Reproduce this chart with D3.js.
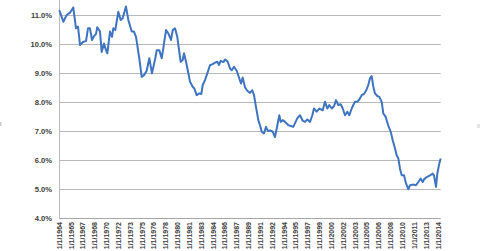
<!DOCTYPE html>
<html><head><meta charset="utf-8">
<script src="https://cdn.jsdelivr.net/npm/d3@7"></script>
<style>body{margin:0;background:#fff;overflow:hidden}svg{display:block}</style>
</head><body>
<svg id="c" width="480" height="251"></svg>
<script>
const dates = [1964.00,1964.53,1964.98,1965.42,1965.85,1966.21,1966.48,1966.74,1967.18,1967.54,1967.80,1968.06,1968.33,1968.59,1968.86,1969.03,1969.39,1969.61,1969.92,1970.18,1970.36,1970.71,1970.98,1971.15,1971.41,1971.81,1972.13,1972.39,1972.83,1973.14,1973.59,1973.89,1974.16,1974.59,1974.91,1975.22,1975.57,1975.92,1976.27,1976.71,1976.90,1977.24,1977.56,1977.77,1978.13,1978.43,1978.79,1979.02,1979.32,1979.62,1980.07,1980.34,1980.51,1980.78,1981.31,1981.66,1981.88,1982.19,1982.54,1982.80,1982.99,1983.29,1983.60,1983.95,1984.31,1984.62,1984.92,1985.15,1985.37,1985.72,1985.98,1986.30,1986.60,1986.83,1987.13,1987.49,1987.83,1988.06,1988.28,1988.59,1988.89,1989.25,1989.55,1989.78,1990.04,1990.35,1990.57,1990.80,1991.10,1991.37,1991.63,1991.90,1992.26,1992.56,1992.79,1993.13,1993.32,1993.58,1993.89,1994.32,1994.77,1994.98,1995.51,1995.87,1996.23,1996.53,1996.84,1997.20,1997.50,1997.72,1998.08,1998.43,1998.88,1999.18,1999.49,1999.75,2000.07,2000.37,2000.64,2000.94,2001.26,2001.53,2001.83,2002.13,2002.40,2002.72,2002.93,2003.15,2003.46,2003.72,2004.04,2004.34,2004.61,2004.91,2005.14,2005.36,2005.58,2005.80,2006.11,2006.37,2006.69,2006.90,2007.22,2007.52,2007.88,2008.15,2008.45,2008.67,2008.89,2009.11,2009.34,2009.64,2009.91,2010.21,2010.44,2010.79,2011.23,2011.54,2011.85,2012.12,2012.29,2012.65,2013.08,2013.44,2013.61,2013.88,2014.05,2014.32,2014.50];
const rates = [11.17,10.77,11.00,11.08,11.26,10.54,10.60,9.97,10.08,10.10,10.54,10.54,10.14,10.27,10.35,10.58,10.43,9.73,10.02,9.79,9.68,10.43,10.25,10.54,10.48,11.11,10.83,10.89,11.29,10.83,10.43,10.43,10.25,9.51,8.87,8.93,9.08,9.51,8.99,9.51,9.79,9.79,9.51,9.85,10.48,10.37,10.14,10.48,10.54,10.25,9.39,9.45,9.68,9.39,8.70,8.53,8.47,8.24,8.30,8.28,8.59,8.76,8.99,9.27,9.31,9.36,9.39,9.28,9.42,9.38,9.47,9.39,9.16,9.10,9.22,9.08,8.82,8.64,8.85,8.51,8.39,8.32,8.41,8.24,7.84,7.38,7.21,6.98,6.92,7.15,7.00,7.03,6.98,6.80,7.09,7.55,7.32,7.38,7.32,7.21,7.17,7.15,7.44,7.55,7.36,7.32,7.40,7.32,7.55,7.78,7.67,7.78,7.72,8.01,7.78,7.90,7.78,7.86,8.07,7.90,7.93,7.78,7.55,7.67,7.55,7.78,7.90,8.01,8.01,8.09,8.24,8.28,8.39,8.59,8.82,8.90,8.53,8.30,8.21,8.18,8.01,7.61,7.49,7.22,6.98,6.69,6.40,6.17,6.06,5.71,5.48,5.48,5.20,5.00,5.14,5.16,5.14,5.25,5.37,5.25,5.34,5.42,5.48,5.54,5.48,5.08,5.54,5.89,6.06];
const yTicks = [4,5,6,7,8,9,10,11];
const tickYears = [1964,1965,1967,1968,1970,1972,1973,1975,1976,1978,1980,1981,1983,1984,1986,1987,1989,1991,1992,1994,1995,1997,1999,2000,2002,2003,2005,2006,2008,2010,2011,2013,2014];
const tickLabels = tickYears.map(y => "1/1/" + y);

const svg = d3.select("#c");
const left = 59.3, right = 440.7;
const x = d3.scaleLinear().domain([1964, 2014.5]).range([left, right]);
const y = d3.scaleLinear().domain([4, 11]).range([218.3, 15]);
const xl = d3.scalePoint().domain(tickLabels).range([59.3, 438]);

// gridlines
svg.append("g").selectAll("line").data(yTicks).join("line")
  .attr("x1", left).attr("x2", right)
  .attr("y1", d => Math.round(y(d)) + 0.5).attr("y2", d => Math.round(y(d)) + 0.5)
  .attr("stroke", d => d === 4 ? "#a6a6a6" : "#b8b8b8").attr("stroke-width", 1);
// y axis line
svg.append("line").attr("x1", 59.5).attr("x2", 59.5).attr("y1", 0).attr("y2", 219)
  .attr("stroke", "#b8b8b8");

// y labels
svg.append("g").selectAll("text").data(yTicks).join("text")
  .attr("x", 52).attr("y", d => y(d) + 3)
  .attr("text-anchor", "end")
  .attr("font-family", "Liberation Sans, Arial, sans-serif")
  .attr("font-size", "7.6px").attr("font-weight", "bold").attr("fill", "#404040")
  .text(d => d.toFixed(1) + "%");

// x labels
svg.append("g").selectAll("text").data(tickLabels).join("text")
  .attr("transform", d => `translate(${xl(d) + 2.5},222) rotate(-90)`)
  .attr("text-anchor", "end")
  .attr("font-family", "Liberation Sans, Arial, sans-serif")
  .attr("font-size", "7px").attr("font-weight", "bold").attr("fill", "#404040")
  .text(d => d);

// line
const pts = dates.map((d, i) => [d, rates[i]]);
svg.append("path").datum(pts)
  .attr("fill", "none").attr("stroke", "#3f74c0").attr("stroke-width", 2)
  .attr("stroke-linejoin", "round")
  .attr("d", d3.line().x(d => x(d[0])).y(d => y(d[1])));

// faint chart-frame handles
svg.append("rect").attr("x", 0).attr("y", 122).attr("width", 1.5).attr("height", 4).attr("fill", "#d0d0d0");
svg.append("rect").attr("x", 477).attr("y", 124).attr("width", 3).attr("height", 4).attr("fill", "#e4e4e4");
</script>
</body></html>
